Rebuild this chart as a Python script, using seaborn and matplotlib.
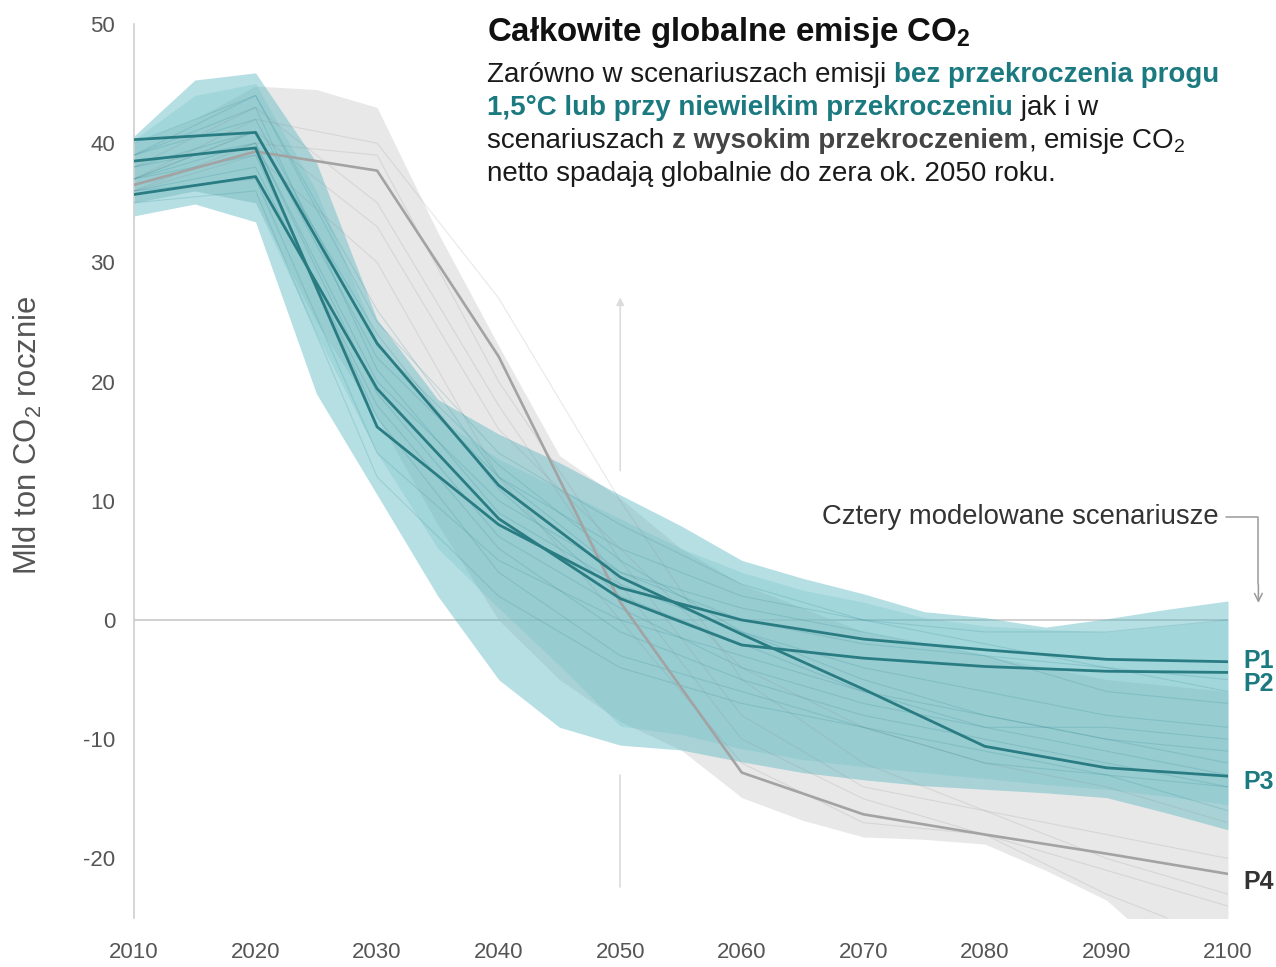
import matplotlib
matplotlib.use("Agg")
import matplotlib.pyplot as plt
import numpy as np
import pandas as pd
import seaborn as sns

# ---------------------------------------------------------------- data
years5 = list(range(2010, 2101, 5))
years10 = list(range(2010, 2101, 10))

# ranges of 1.5°C pathways (no / low overshoot) – two overlapping envelopes
teal_a_hi = [40.6, 45.3, 45.9, 38.4, 25.2, 18.5, 15.6, 13.2, 10.5, 7.9, 5.0, 3.5, 2.2, 0.7, 0.2, -0.6, 0.1, 0.9, 1.6]
teal_a_lo = [33.9, 34.9, 33.4, 19.0, 10.5, 2.0, -5.0, -9.0, -10.5, -10.9, -11.9, -12.8, -13.4, -13.9, -14.2, -14.5, -14.9, -16.2, -17.6]
teal_b_hi = [40.3, 44.0, 45.0, 36.0, 23.5, 17.0, 13.5, 11.0, 8.5, 6.0, 4.0, 2.5, 1.5, 0.2, -0.5, -0.8, -1.0, -0.5, 0.0]
teal_b_lo = [35.0, 36.0, 35.0, 24.0, 14.0, 6.0, 1.0, -3.8, -8.9, -9.6, -10.8, -11.7, -12.3, -12.8, -13.3, -13.8, -14.2, -14.8, -15.5]
# range of high-overshoot pathways
gray_hi = [40.0, 42.0, 44.8, 44.5, 43.0, 32.5, 23.0, 13.8, 10.2, 6.0, 3.0, 1.0, -1.0, -2.0, -3.0, -4.0, -5.0, -5.5, -6.0]
gray_lo = [35.0, 36.0, 35.0, 25.0, 17.0, 8.0, 0.0, -5.0, -8.5, -10.9, -14.9, -16.8, -18.2, -18.4, -18.8, -21.0, -23.5, -28.0, -30.0]

# individual scenarios (decadal values)
teal_runs = {
    "s1": [37, 41, 22, 12, 6, 2, 0, -2, -4, -6],
    "s2": [39, 43, 21, 9, 3, -1, -4, -6, -8, -9],
    "s3": [36, 38, 18, 6, -1, -5, -8, -10, -12, -14],
    "s4": [40, 44, 25, 14, 8, 3, 0, -1, -1, 0],
    "s5": [35, 36, 12, 2, -4, -7, -9, -11, -13, -16],
    "s6": [38, 40, 20, 10, 4, 0, -2, -3, -4, -5],
    "s7": [37, 39, 17, 4, -3, -6, -9, -12, -13, -14],
    "s8": [39, 42, 23, 13, 5, -1, -5, -8, -10, -11],
    "s9": [36, 37, 14, 5, 0, -3, -6, -8, -10, -12],
    "s10": [38, 41, 24, 11, 2, -2, -6, -9, -11, -13],
    "s11": [37, 40, 19, 7, 1, -4, -7, -9, -9, -10],
    "s12": [39, 44, 26, 12, 4, 1, -1, -3, -6, -7],
}
gray_runs = {
    "g1": [37, 42, 40, 27, 10, -5, -12, -16, -20, -23],
    "g2": [36, 40, 39, 20, 5, -8, -14, -16, -18, -20],
    "g3": [38, 43, 35, 18, 3, -10, -15, -18, -23, -27],
    "g4": [37, 41, 33, 16, 6, -4, -9, -12, -14, -17],
    "g5": [36, 39, 30, 12, 0, -12, -17, -18, -21, -24],
}

# four illustrative pathways
P1 = [38.5, 39.6, 16.2, 8.0, 2.7, 0.0, -1.6, -2.5, -3.3, -3.5]
P2 = [35.7, 37.2, 19.4, 8.5, 1.8, -2.1, -3.2, -3.9, -4.3, -4.4]
P3 = [40.3, 40.9, 23.2, 11.3, 3.6, -1.2, -5.8, -10.6, -12.4, -13.1]
P4 = [36.5, 39.3, 37.7, 22.1, 1.5, -12.8, -16.3, -18.0, -19.6, -21.3]
pathway_names = ["P1", "P2", "P3", "P4"]

x_ticks = [2010, 2020, 2030, 2040, 2050, 2060, 2070, 2080, 2090, 2100]
y_ticks = [50, 40, 30, 20, 10, 0, -10, -20]

# ---------------------------------------------------------------- style
sns.set_theme(style="white")
plt.rcParams["font.family"] = ["Liberation Sans", "DejaVu Sans"]
plt.rcParams["mathtext.fontset"] = "custom"
plt.rcParams["mathtext.rm"] = "Liberation Sans"
plt.rcParams["mathtext.bf"] = "Liberation Sans:bold"

TEAL = "#5cb8c2"
TEAL_DARK = "#2a7c83"
TEAL_TXT = "#1b7a80"
GRAY_LINE = "#a3a3a3"
AXIS = "#cacaca"
TICK_TXT = "#555555"

W_PX, H_PX = 1276, 967
fig = plt.figure(figsize=(W_PX / 100, H_PX / 100), dpi=100)
left, right, top, bottom = 134, 1228, 24, 918
ax = fig.add_axes([left / W_PX, 1 - bottom / H_PX, (right - left) / W_PX, (bottom - top) / H_PX])
ax.set_facecolor("white")

# zero line
ax.axhline(0, color="#c4c4c4", lw=1.1, zorder=0.5)

# envelopes
ax.fill_between(years5, gray_lo, gray_hi, color="#d2d2d2", alpha=0.5, lw=0, zorder=1)
ax.fill_between(years5, teal_a_lo, teal_a_hi, color=TEAL, alpha=0.45, lw=0, zorder=2)
ax.fill_between(years5, teal_b_lo, teal_b_hi, color=TEAL, alpha=0.22, lw=0, zorder=2)

# individual scenarios
runs = pd.concat(
    [pd.DataFrame({"year": years10, "value": v, "run": k, "group": "low"}) for k, v in teal_runs.items()]
    + [pd.DataFrame({"year": years10, "value": v, "run": k, "group": "high"}) for k, v in gray_runs.items()],
    ignore_index=True,
)
sns.lineplot(data=runs[runs.group == "high"], x="year", y="value", units="run", estimator=None,
             color="#8f8f8f", alpha=0.2, lw=0.8, ax=ax, zorder=3, legend=False)
sns.lineplot(data=runs[runs.group == "low"], x="year", y="value", units="run", estimator=None,
             color="#2f8a92", alpha=0.2, lw=0.8, ax=ax, zorder=3, legend=False)

# illustrative pathways
paths = pd.concat(
    [pd.DataFrame({"year": years10, "value": v, "path": n}) for n, v in zip(pathway_names, [P1, P2, P3, P4])],
    ignore_index=True,
)
sns.lineplot(data=paths[paths.path != "P4"], x="year", y="value", hue="path",
             palette={"P1": TEAL_DARK, "P2": TEAL_DARK, "P3": TEAL_DARK},
             lw=2.0, ax=ax, zorder=5, legend=False)
sns.lineplot(data=paths[paths.path == "P4"], x="year", y="value", color=GRAY_LINE,
             lw=1.9, ax=ax, zorder=4, legend=False)

# axes
ax.set_xlim(2010, 2100)
ax.set_ylim(-25, 50)
ax.set_xticks(x_ticks)
ax.set_yticks(y_ticks)
ax.set_xticklabels([str(v) for v in x_ticks])
ax.set_yticklabels([str(v) for v in y_ticks])
ax.set_xlabel("")
ax.set_ylabel("")
for s in ["top", "right", "bottom"]:
    ax.spines[s].set_visible(False)
ax.spines["left"].set_color(AXIS)
ax.spines["left"].set_linewidth(1.1)
ax.tick_params(axis="x", direction="out", length=8.6, width=1.1, color=AXIS,
               labelsize=16, labelcolor=TICK_TXT, pad=9)
ax.tick_params(axis="y", direction="out", length=8, width=1.1, color=AXIS,
               labelsize=16, labelcolor=TICK_TXT, pad=5.5)
ax.grid(False)

# marker for 2050
ax.plot([2050, 2050], [-22.4, -13.0], color="#dcdcdc", lw=1.2, zorder=1)
ax.annotate("", xy=(2050, 27.3), xytext=(2050, 12.3),
            arrowprops=dict(arrowstyle="-|>", color="#dcdcdc", lw=1.2, mutation_scale=11), zorder=1)

# pathway labels
lab_y = {"P1": -3.4, "P2": -5.4, "P3": -13.6, "P4": -22.0}
lab_c = {"P1": TEAL_TXT, "P2": TEAL_TXT, "P3": TEAL_TXT, "P4": "#333333"}
for n in pathway_names:
    ax.text(2101.3, lab_y[n], n, ha="left", va="center", fontsize=18, fontweight="bold",
            color=lab_c[n], clip_on=False)

# callout
ax.text(2099.2, 8.6, "Cztery modelowane scenariusze", ha="right", va="center",
        fontsize=19.8, color="#333333", clip_on=False)
ax.plot([2099.8, 2102.5, 2102.5], [8.6, 8.6, 3.0], color="#9a9a9a", lw=1.1, clip_on=False)
ax.annotate("", xy=(2102.5, 1.2), xytext=(2102.5, 3.2),
            arrowprops=dict(arrowstyle="->", color="#9a9a9a", lw=1.1, mutation_scale=14),
            annotation_clip=False)

# y axis title
fig.text(28 / W_PX, 1 - 435 / H_PX, r"Mld ton CO$\mathregular{_2}$ rocznie", rotation=90,
         ha="center", va="center", fontsize=22.3, color="#555555")

# ---------------------------------------------------------------- heading
renderer = fig.canvas.get_renderer()


def text_width(s, **kw):
    t = fig.text(0, 0, s + "|", **kw)
    w1 = t.get_window_extent(renderer).width
    t.remove()
    t = fig.text(0, 0, "|", **kw)
    w2 = t.get_window_extent(renderer).width
    t.remove()
    return w1 - w2


def put_line(x_px, base_px, parts):
    x = x_px
    for s, kw in parts:
        fig.text(x / W_PX, 1 - base_px / H_PX, s, ha="left", va="baseline", **kw)
        x += text_width(s, **kw)


BODY = 20
norm = dict(fontsize=BODY, color="#1a1a1a")
teal_b = dict(fontsize=BODY, color=TEAL_TXT, fontweight="bold")
gray_b = dict(fontsize=BODY, color="#444444", fontweight="bold")

fig.text(487 / W_PX, 1 - 41 / H_PX, r"Całkowite globalne emisje CO$\mathregular{_2}$",
         ha="left", va="baseline", fontsize=23.8, fontweight="bold", color="#111111")
put_line(487, 82, [("Zarówno w scenariuszach emisji ", norm), ("bez przekroczenia progu", teal_b)])
put_line(487, 115, [("1,5°C lub przy niewielkim przekroczeniu", teal_b), (" jak i w", norm)])
put_line(487, 148, [("scenariuszach ", norm), ("z wysokim przekroczeniem", gray_b),
                    (r", emisje CO$\mathregular{_2}$", norm)])
put_line(487, 181, [("netto spadają globalnie do zera ok. 2050 roku.", norm)])

fig.savefig("out.png", dpi=100, facecolor="white")
